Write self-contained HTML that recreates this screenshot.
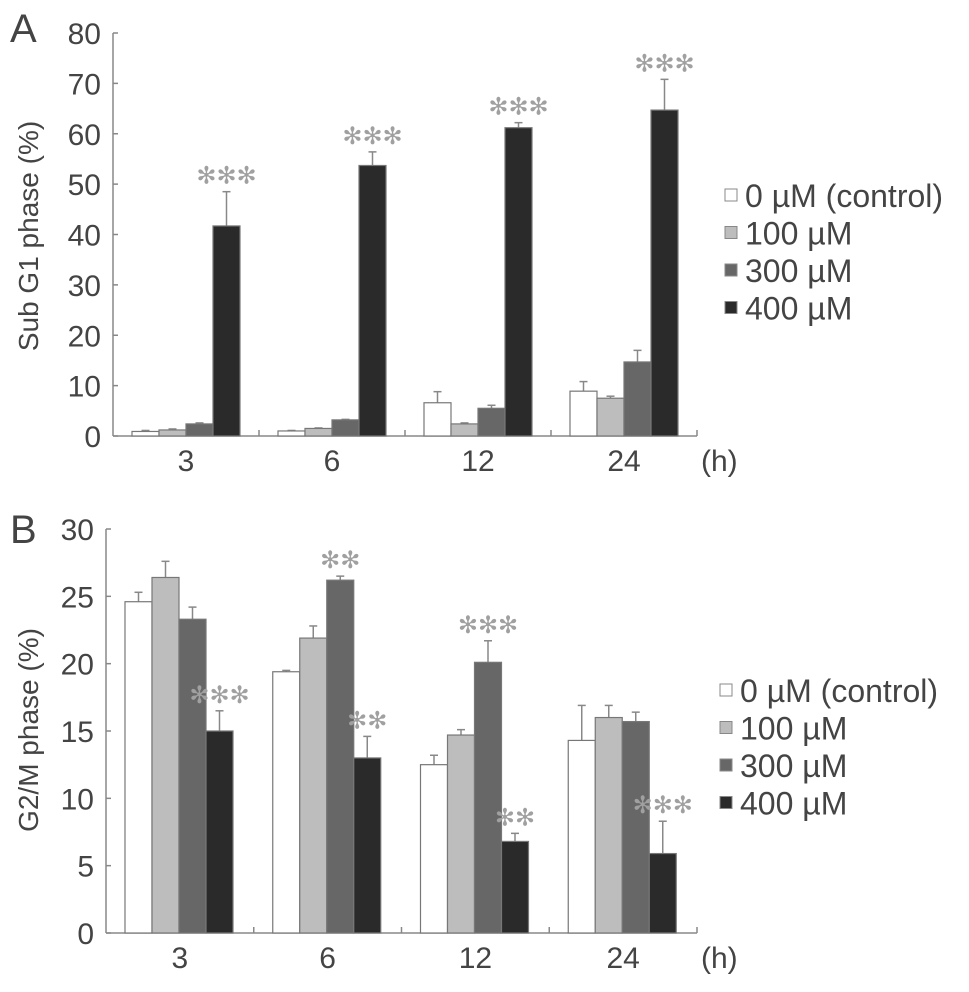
<!DOCTYPE html>
<html><head><meta charset="utf-8"><style>
html,body{margin:0;padding:0;background:#fff;}
svg text{font-family:"Liberation Sans","DejaVu Sans",sans-serif;fill:#444;}
</style></head><body>
<svg id="chart" width="969" height="987" viewBox="0 0 969 987" xmlns="http://www.w3.org/2000/svg"></svg>
<script>
const categories = ["3","6","12","24"];
const seriesNames = ["0 \u00b5M (control)","100 \u00b5M","300 \u00b5M","400 \u00b5M"];
const subG1_0 = [0.9,1.0,6.6,8.9];
const subG1_100 = [1.2,1.5,2.4,7.5];
const subG1_300 = [2.4,3.2,5.5,14.7];
const subG1_400 = [41.7,53.7,61.2,64.7];
const subG1Err_0 = [0.2,0.1,2.2,1.9];
const subG1Err_100 = [0.2,0.1,0.2,0.4];
const subG1Err_300 = [0.2,0.1,0.6,2.3];
const subG1Err_400 = [6.8,2.7,1.0,6.1];
const subG1Sig = ["***","***","***","***"];
const subG1Ticks = [0,10,20,30,40,50,60,70,80];
const g2m_0 = [24.6,19.4,12.5,14.3];
const g2m_100 = [26.4,21.9,14.7,16.0];
const g2m_300 = [23.3,26.2,20.1,15.7];
const g2m_400 = [15.0,13.0,6.8,5.9];
const g2mErr_0 = [0.7,0.1,0.7,2.6];
const g2mErr_100 = [1.2,0.9,0.4,0.9];
const g2mErr_300 = [0.9,0.3,1.6,0.7];
const g2mErr_400 = [1.5,1.6,0.6,2.4];
const g2mSig300 = ["","**","***",""];
const g2mSig400 = ["***","**","**","***"];
const g2mTicks = [0,5,10,15,20,25,30];

const svg = document.getElementById('chart');
const NS = "http://www.w3.org/2000/svg";
const fills = ["#ffffff","#bdbdbd","#676767","#2a2a2a"];
function mk(tag, attrs, parent){
  const e = document.createElementNS(NS, tag);
  for (const k in attrs) e.setAttribute(k, attrs[k]);
  (parent||svg).appendChild(e); return e;
}
function panel(o){
  const g = mk('g', {});
  
  
  const y = v => o.y0 - (v / o.max) * (o.y0 - o.yTop);
  const gw = (o.xEnd - o.x0) / categories.length;
  const x = (gi, si) => o.x0 + gi * gw + 19 + si * 27;
  const ax = mk('line', {x1:o.x0, y1:o.yTop, x2:o.x0, y2:o.y0, stroke:'#888', 'stroke-width':1.5}, g);
  
  
  const xa = mk('line', {x1:o.x0, y1:o.y0, x2:o.xEnd, y2:o.y0, stroke:'#888', 'stroke-width':1.5}, g);
  
  
  o.ticks.forEach(t => {
    mk('line', {x1:o.x0, y1:y(t), x2:o.x0+5, y2:y(t), stroke:'#888', 'stroke-width':1.5}, g);
    const tx = mk('text', {x:o.x0-12, y:y(t)+11, 'font-size':30, 'text-anchor':'end'}, g);
    tx.textContent = t;
    
    
  });
  for (let i = 1; i <= categories.length; i++) {
    const gx = o.x0 + i * gw;
    mk('line', {x1:gx, y1:o.y0, x2:gx, y2:o.y0-6, stroke:'#888', 'stroke-width':1.5}, g);
  }
  categories.forEach((c, i) => {
    const tx = mk('text', {x:o.x0 + (i + 0.5) * gw, y:o.y0+35, 'font-size':30, 'text-anchor':'middle'}, g);
    tx.textContent = c;
    
    
  });
  const h = mk('text', {x:o.xEnd+4, y:o.y0+35, 'font-size':30}, g);
  h.textContent = '(h)';
  
  
  o.series.forEach((s, si) => {
    s.forEach((v, gi) => {
      const bx = x(gi, si), by = y(v);
      const ey = y(v + o.errs[si][gi]), cx = bx + 13.5;
      const el = mk('line', {x1:cx, y1:by, x2:cx, y2:ey, stroke:'#888', 'stroke-width':1.5}, g);
      
      
      mk('line', {x1:cx-4, y1:ey, x2:cx+4, y2:ey, stroke:'#888', 'stroke-width':1.5}, g);
      const r = mk('rect', {x:bx, y:by, width:27, height:o.y0-by, fill:fills[si], stroke:'#777', 'stroke-width':1.2}, g);
      
      
      const sig = o.sig[si] ? o.sig[si][gi] : '';
      if (sig) {
        const st = mk('text', {x:cx, y:ey-8, 'font-size':24, 'text-anchor':'middle', style:'fill:#a0a0a0;font-family:"DejaVu Sans",sans-serif'}, g);
        st.textContent = sig.replace(/\*/g, '\u273B');
        
        
      }
    });
  });
  const yt = mk('text', {x:0, y:0, 'font-size':28, 'text-anchor':'middle', transform:`translate(${o.titleX},${o.titleY}) rotate(-90)`}, g);
  yt.textContent = o.title;
  
  
  const pl = mk('text', {x:o.labelX, y:o.labelY, 'font-size':40}, g);
  pl.textContent = o.label;
  
  
  seriesNames.forEach((n, i) => {
    const ly = o.legY + i * 37.5;
    const sq = mk('rect', {x:o.legX, y:ly-6, width:12, height:12, fill:fills[i], stroke:'#888', 'stroke-width':1}, g);
    
    
    const lt = mk('text', {x:o.legX+20, y:ly+12, 'font-size':32}, g);
    lt.textContent = n;
    
    
  });
}
panel({name:'panel-a-sub-g1', x0:113, xEnd:697, y0:436, yTop:33, max:80, ticks:subG1Ticks,
  series:[subG1_0,subG1_100,subG1_300,subG1_400],
  errs:[subG1Err_0,subG1Err_100,subG1Err_300,subG1Err_400],
  sig:[null,null,null,subG1Sig], title:'Sub G1 phase (%)', titleX:38, titleY:236,
  label:'A', labelX:10, labelY:42, legX:725, legY:195});
panel({name:'panel-b-g2m', x0:106, xEnd:697, y0:933, yTop:529, max:30, ticks:g2mTicks,
  series:[g2m_0,g2m_100,g2m_300,g2m_400],
  errs:[g2mErr_0,g2mErr_100,g2mErr_300,g2mErr_400],
  sig:[null,null,g2mSig300,g2mSig400], title:'G2/M phase (%)', titleX:38, titleY:730,
  label:'B', labelX:10, labelY:543, legX:720, legY:690});
</script>
</body></html>
